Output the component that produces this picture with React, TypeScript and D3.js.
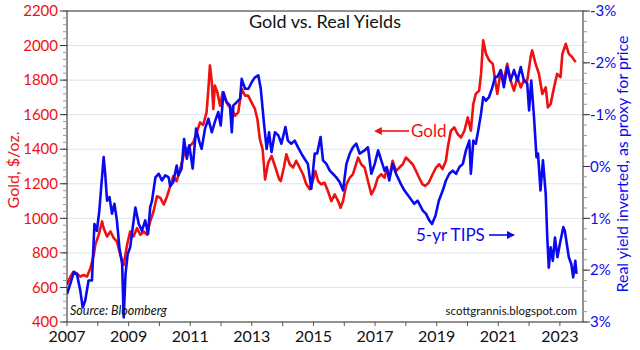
import React from 'react';
import * as d3 from 'd3';

// gold, $/oz (weekly-ish readings)
const goldYears = [
  2007.00, 2007.11, 2007.22, 2007.32, 2007.43, 2007.54, 2007.65, 2007.76, 2007.87, 2007.92,
  2008.03, 2008.14, 2008.19, 2008.30, 2008.41, 2008.52, 2008.62, 2008.73, 2008.84, 2008.95,
  2009.05, 2009.16, 2009.27, 2009.38, 2009.49, 2009.60, 2009.70, 2009.81, 2009.92, 2010.03,
  2010.14, 2010.25, 2010.35, 2010.45, 2010.56, 2010.67, 2010.78, 2010.89, 2010.99, 2011.10,
  2011.21, 2011.32, 2011.42, 2011.53, 2011.59, 2011.64, 2011.70, 2011.75, 2011.80, 2011.88,
  2011.97, 2012.05, 2012.13, 2012.24, 2012.35, 2012.45, 2012.56, 2012.67, 2012.78, 2012.88,
  2012.99, 2013.10, 2013.18, 2013.26, 2013.35, 2013.43, 2013.53, 2013.64, 2013.75, 2013.89,
  2013.94, 2014.04, 2014.12, 2014.23, 2014.34, 2014.44, 2014.55, 2014.66, 2014.77, 2014.88,
  2014.98, 2015.06, 2015.15, 2015.25, 2015.36, 2015.47, 2015.58, 2015.69, 2015.80, 2015.88,
  2015.96, 2016.07, 2016.18, 2016.28, 2016.45, 2016.55, 2016.66, 2016.77, 2016.88, 2016.99,
  2017.09, 2017.20, 2017.31, 2017.38, 2017.46, 2017.57, 2017.68, 2017.79, 2017.90, 2018.00,
  2018.11, 2018.22, 2018.33, 2018.43, 2018.54, 2018.63, 2018.74, 2018.87, 2018.98, 2019.08,
  2019.19, 2019.30, 2019.36, 2019.46, 2019.57, 2019.68, 2019.79, 2019.90, 2020.01, 2020.11,
  2020.19, 2020.27, 2020.38, 2020.44, 2020.51, 2020.60, 2020.71, 2020.82, 2020.90, 2020.97,
  2021.08, 2021.18, 2021.29, 2021.40, 2021.51, 2021.62, 2021.73, 2021.83, 2021.94, 2022.05,
  2022.10, 2022.21, 2022.32, 2022.43, 2022.54, 2022.61, 2022.70, 2022.81, 2022.91, 2023.02,
  2023.08, 2023.19, 2023.29, 2023.40, 2023.51,
];
const goldPrices = [
  616, 663, 692, 680, 663, 672, 663, 711, 789, 848,
  906, 982, 943, 895, 924, 885, 866, 789, 730, 847,
  924, 895, 943, 905, 924, 905, 982, 1041, 1128, 1118,
  1080, 1128, 1186, 1244, 1215, 1283, 1361, 1400, 1419, 1439,
  1497, 1555, 1540, 1613, 1749, 1885, 1788, 1633, 1768, 1730,
  1652, 1730, 1691, 1652, 1633, 1594, 1613, 1749, 1710, 1710,
  1671, 1633, 1575, 1458, 1400, 1225, 1322, 1361, 1303, 1225,
  1216, 1294, 1371, 1313, 1294, 1333, 1294, 1255, 1197, 1168,
  1216, 1274, 1216, 1197, 1206, 1158, 1100, 1139, 1100, 1061,
  1100, 1197, 1235, 1255, 1352, 1313, 1294, 1216, 1139, 1177,
  1235, 1255, 1235, 1290, 1235, 1333, 1274, 1294, 1313, 1352,
  1333, 1313, 1274, 1235, 1197, 1188, 1206, 1255, 1294, 1313,
  1285, 1333, 1410, 1507, 1526, 1488, 1468, 1507, 1584, 1507,
  1662, 1720, 1739, 1836, 2030, 1952, 1913, 1894, 1797, 1720,
  1856, 1797, 1895, 1797, 1739, 1817, 1758, 1797, 1797, 1933,
  1972, 1895, 1836, 1720, 1758, 1642, 1662, 1758, 1836, 1817,
  1952, 2010, 1952, 1933, 1904,
];

// 5-yr TIPS real yield, %
const tipsYears = [
  2007.00, 2007.11, 2007.22, 2007.32, 2007.43, 2007.51, 2007.59, 2007.70, 2007.81, 2007.89,
  2007.97, 2008.05, 2008.11, 2008.19, 2008.24, 2008.30, 2008.38, 2008.46, 2008.54, 2008.62,
  2008.70, 2008.79, 2008.84, 2008.90, 2008.97, 2009.05, 2009.12, 2009.22, 2009.33, 2009.43,
  2009.54, 2009.63, 2009.70, 2009.76, 2009.87, 2009.98, 2010.08, 2010.19, 2010.30, 2010.35,
  2010.45, 2010.56, 2010.61, 2010.72, 2010.80, 2010.89, 2010.97, 2011.08, 2011.19, 2011.30,
  2011.37, 2011.48, 2011.59, 2011.70, 2011.80, 2011.91, 2011.99, 2012.08, 2012.18, 2012.29,
  2012.35, 2012.40, 2012.51, 2012.62, 2012.67, 2012.78, 2012.89, 2013.00, 2013.10, 2013.21,
  2013.29, 2013.39, 2013.48, 2013.56, 2013.64, 2013.75, 2013.86, 2013.96, 2014.09, 2014.17,
  2014.28, 2014.39, 2014.50, 2014.61, 2014.71, 2014.82, 2014.93, 2015.04, 2015.12, 2015.23,
  2015.31, 2015.42, 2015.53, 2015.63, 2015.74, 2015.85, 2015.96, 2016.07, 2016.18, 2016.28,
  2016.39, 2016.50, 2016.66, 2016.77, 2016.88, 2016.99, 2017.10, 2017.20, 2017.31, 2017.38,
  2017.46, 2017.57, 2017.68, 2017.84, 2017.95, 2018.11, 2018.27, 2018.38, 2018.55, 2018.65,
  2018.76, 2018.85, 2018.96, 2019.07, 2019.20, 2019.30, 2019.41, 2019.52, 2019.63, 2019.74,
  2019.85, 2019.95, 2020.06, 2020.11, 2020.19, 2020.27, 2020.35, 2020.44, 2020.51, 2020.60,
  2020.70, 2020.81, 2020.90, 2020.97, 2021.08, 2021.18, 2021.29, 2021.40, 2021.51, 2021.62,
  2021.73, 2021.83, 2021.94, 2022.00, 2022.07, 2022.16, 2022.24, 2022.29, 2022.37, 2022.45,
  2022.54, 2022.59, 2022.64, 2022.70, 2022.77, 2022.84, 2022.92, 2023.00, 2023.11, 2023.16,
  2023.29, 2023.37, 2023.43, 2023.50, 2023.54,
];
const tipsYields = [
  2.46, 2.26, 2.04, 2.07, 2.39, 2.72, 2.59, 2.20, 2.20, 1.11,
  1.24, 0.85, 0.40, -0.18, 0.14, 0.66, 0.59, 0.91, 0.72, 1.04,
  1.56, 1.88, 2.91, 2.07, 1.69, 1.56, 1.24, 0.79, 1.11, 1.24,
  1.04, 1.30, 0.79, 0.66, 0.21, 0.14, 0.27, 0.17, 0.21, 0.38,
  0.30, -0.02, 0.17, 0.04, -0.53, -0.15, -0.41, 0.04, -0.73, -0.47,
  -0.34, -0.73, -0.92, -0.66, -0.86, -1.05, -0.79, -1.43, -1.24, -1.18,
  -0.66, -1.18, -1.24, -1.31, -1.69, -1.50, -1.50, -1.63, -1.72, -1.76,
  -1.50, -0.86, -0.34, -0.66, -0.28, -0.66, -0.60, -0.44, -0.76, -0.50,
  -0.44, -0.50, -0.37, -0.25, -0.15, -0.05, 0.43, -0.25, -0.25, -0.57,
  -0.12, -0.05, 0.08, 0.14, 0.21, 0.30, 0.46, -0.05, -0.25, -0.37,
  -0.44, -0.25, -0.31, -0.37, 0.14, -0.05, -0.31, -0.12, 0.08, 0.01,
  0.27, -0.05, 0.14, 0.34, 0.46, 0.59, 0.72, 0.66, 0.85, 0.91,
  1.04, 1.11, 0.95, 0.66, 0.46, 0.27, 0.14, 0.08, 0.14, 0.01,
  -0.05, -0.31, -0.50, 0.14, -0.50, -0.44, -0.70, -1.02, -1.34, -1.27,
  -1.34, -1.53, -1.73, -1.73, -1.86, -1.53, -1.92, -1.66, -1.86, -1.66,
  -1.92, -1.66, -1.60, -1.08, -1.66, -0.95, -0.18, -0.25, 0.46, -0.12,
  0.53, 1.37, 1.95, 1.56, 1.82, 1.37, 1.75, 1.49, 1.17, 1.24,
  1.75, 1.88, 2.14, 1.82, 2.07,
];

const goldTicks = [400, 600, 800, 1000, 1200, 1400, 1600, 1800, 2000, 2200];
const yieldTicks = [-3, -2, -1, 0, 1, 2, 3];
const yearTicks = [2007, 2009, 2011, 2013, 2015, 2017, 2019, 2021, 2023];

const RED = '#ee1111';
const BLUE = '#0a0af0';
const FONT = 'Lato, "Open Sans", sans-serif';

export default function App() {
  const width = 640;
  const height = 350;
  const left = 67, right = 583, top = 11, bottom = 322;

  const x = d3.scaleLinear().domain([2007, 2023.75]).range([left, right]);
  const yGold = d3.scaleLinear().domain([400, 2200]).range([bottom, top]);
  const yTips = d3.scaleLinear().domain([-3, 3]).range([top, bottom]);

  const goldData = goldYears.map((yr, i) => [yr, goldPrices[i]] as [number, number]);
  const tipsData = tipsYears.map((yr, i) => [yr, tipsYields[i]] as [number, number]);

  const goldLine = d3.line<[number, number]>().x(d => x(d[0])).y(d => yGold(d[1]));
  const tipsLine = d3.line<[number, number]>().x(d => x(d[0])).y(d => yTips(d[1]));

  const goldMinor = d3.range(400, 2201, 40);
  const yieldMinor = d3.range(-3, 3.001, 0.2);
  const yearMinor = d3.range(2007, 2024, 1);

  return (
    <svg width={width} height={height} style={{ display: 'block', fontFamily: FONT }}>
      <style>{`body{margin:0}`}</style>
      <defs>
        <clipPath id="plot">
          <rect x={left} y={top} width={right - left} height={bottom - top} />
        </clipPath>
        <marker id="arrRed" viewBox="0 0 10 10" refX="1" refY="5" markerWidth="5" markerHeight="5" orient="auto-start-reverse">
          <path d="M0,0 L10,5 L0,10 z" fill={RED} />
        </marker>
        <marker id="arrBlue" viewBox="0 0 10 10" refX="9" refY="5" markerWidth="5" markerHeight="5" orient="auto">
          <path d="M0,0 L10,5 L0,10 z" fill={BLUE} />
        </marker>
      </defs>

      {/* gridlines */}
      {goldTicks.slice(1, -1).map(t => (
        <line key={'g' + t} x1={left} x2={right} y1={yGold(t)} y2={yGold(t)} stroke="#dde4ec" strokeWidth={1} />
      ))}

      {/* series */}
      <g clipPath="url(#plot)" fill="none" strokeWidth={2.6} strokeLinejoin="round">
        <path d={goldLine(goldData) || ''} stroke={RED} />
        <path d={tipsLine(tipsData) || ''} stroke={BLUE} />
      </g>

      {/* frame */}
      <rect x={left} y={top} width={right - left} height={bottom - top} fill="none" stroke="#222" strokeWidth={1} />

      {/* left axis */}
      {goldMinor.map(t => (
        <line key={'gm' + t} x1={left - 4} x2={left} y1={yGold(t)} y2={yGold(t)} stroke="#999" />
      ))}
      {goldTicks.map(t => (
        <g key={'gt' + t}>
          <line x1={left - 7} x2={left} y1={yGold(t)} y2={yGold(t)} stroke="#333" />
          <text x={left - 9} y={yGold(t)} dy="0.35em" textAnchor="end" fill={RED} fontSize={15}>{t}</text>
        </g>
      ))}
      <text transform={`translate(19,${170}) rotate(-90)`} textAnchor="middle" fill={RED} fontSize={16}>Gold, $/oz.</text>

      {/* right axis */}
      {yieldMinor.map(t => (
        <line key={'ym' + t.toFixed(1)} x1={right} x2={right + 4} y1={yTips(t)} y2={yTips(t)} stroke="#999" />
      ))}
      {yieldTicks.map(t => (
        <g key={'yt' + t}>
          <line x1={right} x2={right + 7} y1={yTips(t)} y2={yTips(t)} stroke="#333" />
          <text x={right + 7} y={yTips(t)} dy="0.35em" textAnchor="start" fill={BLUE} fontSize={15}>{t + '%'}</text>
        </g>
      ))}
      <text transform={`translate(628,${164}) rotate(-90)`} textAnchor="middle" fill={BLUE} fontSize={16}>
        Real yield inverted, as proxy for price
      </text>

      {/* bottom axis */}
      {yearMinor.map(t => (
        <line key={'xm' + t} x1={x(t)} x2={x(t)} y1={bottom} y2={bottom + 4} stroke="#555" />
      ))}
      {yearTicks.map(t => (
        <text key={'xt' + t} x={x(t)} y={bottom + 20} textAnchor="middle" fill="#111" fontSize={16}>{t}</text>
      ))}

      {/* title and notes */}
      <text x={325} y={28} textAnchor="middle" fill="#111" fontSize={18}>Gold vs. Real Yields</text>
      <text x={70} y={315} fill="#111" fontSize={12.5} fontStyle="italic">Source: Bloomberg</text>
      <text x={577} y={315} textAnchor="end" fill="#111" fontSize={11.5}>scottgrannis.blogspot.com</text>

      <line x1={381} x2={409} y1={131} y2={131} stroke={RED} strokeWidth={1.6} markerStart="url(#arrRed)" />
      <text x={411} y={131} dy="0.35em" fill={RED} fontSize={17}>Gold</text>

      <text x={416} y={235} dy="0.35em" fill={BLUE} fontSize={17}>5-yr TIPS</text>
      <line x1={489} x2={514} y1={235} y2={235} stroke={BLUE} strokeWidth={1.6} markerEnd="url(#arrBlue)" />
    </svg>
  );
}
